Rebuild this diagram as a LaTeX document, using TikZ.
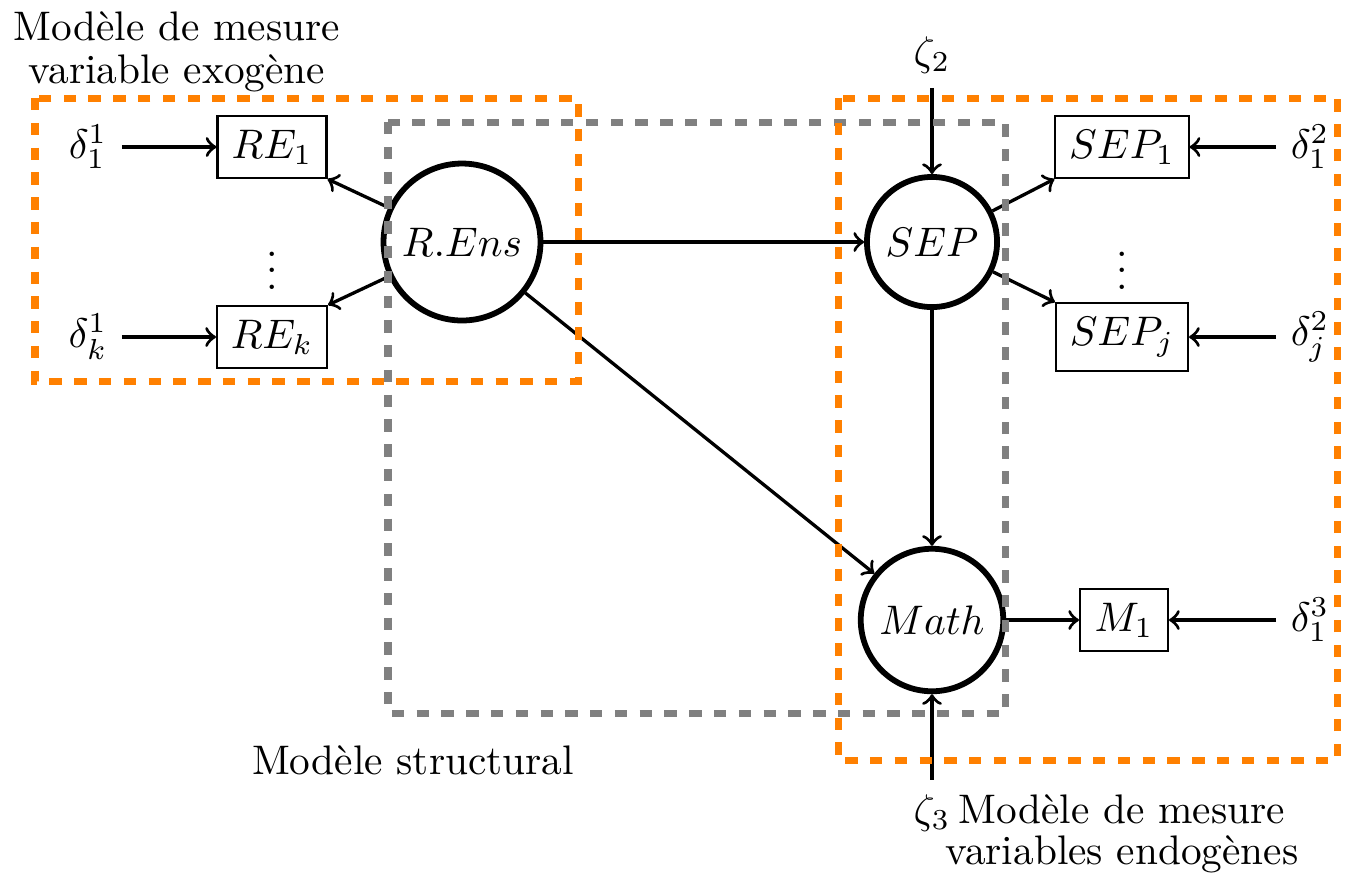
\documentclass[tikz,border=0pt]{standalone}
\begin{document}
\begin{tikzpicture}[x=0.2421pt,y=-0.2421pt,
 latent/.style={circle,draw,line width=1.4pt,inner sep=0pt},
 manifest/.style={rectangle,draw,line width=0.5pt},
 arr/.style={->,thick},
 orangebox/.style={draw=orange,line width=1.7pt,dash pattern=on 3pt off 3pt},
 graybox/.style={draw=gray,line width=1.7pt,dash pattern=on 3pt off 3pt},
 lbl/.style={align=center,font=\fontsize{10}{10.4}\selectfont}]
\useasboundingbox (0,0) rectangle (1345,887);
% latent variables
\node[latent,minimum size=38pt] (rens) at (462,242) {$R.Ens$};
\node[latent,minimum size=31.5pt] (sep) at (932,242) {$SEP$};
\node[latent,minimum size=34.5pt] (math) at (932,620) {$Math$};
% manifest variables
\node[manifest,minimum width=26.4pt] (re1) at (272,147) {$RE_1$};
\node[manifest,minimum width=26.4pt] (rek) at (272,337) {$RE_k$};
\node[manifest,minimum width=31.7pt] (sep1) at (1122,147) {$SEP_1$};
\node[manifest,minimum width=31.7pt] (sepj) at (1122,337) {$SEP_j$};
\node[manifest,minimum width=21.3pt] (m1) at (1124,620) {$M_1$};
% errors
\node (d11) at (88,147) {$\delta_1^1$};
\node (dk1) at (88,337) {$\delta_k^1$};
\node (d12) at (1310,147) {$\delta_1^2$};
\node (dj2) at (1310,337) {$\delta_j^2$};
\node (d13) at (1310,620) {$\delta_1^3$};
\node (z2) at (932,55) {$\zeta_2$};
\node[anchor=base] (z3) at (932,823) {$\zeta_3$};
% dots
\node (dots1) at (272,258) {$\vdots$};
\node (dots2) at (1122,258) {$\vdots$};
% labels
\node[lbl] (lexo) at (177,52) {Mod\`ele de mesure\\variable exog\`ene};
\node[lbl] (lstr) at (413,760) {Mod\`ele structural};
\node[lbl,font=\fontsize{10}{9.8}\selectfont] (lendo) at (1122,834) {Mod\`ele de mesure\\variables endog\`enes};
% arrows
\draw[arr] (d11) -- (re1);
\draw[arr] (dk1) -- (rek);
\draw[arr] (rens) -- (re1.south east);
\draw[arr] (rens) -- (rek.north east);
\draw[arr] (rens) -- (sep);
\draw[arr] (rens) -- (math);
\draw[arr] (sep) -- (math);
\draw[arr] (sep) -- (sep1.south west);
\draw[arr] (sep) -- (sepj.north west);
\draw[arr] (d12) -- (sep1);
\draw[arr] (dj2) -- (sepj);
\draw[arr] (math) -- (m1);
\draw[arr] (d13) -- (m1);
\draw[arr] (z2) -- (sep);
\draw[arr] (z3) -- (math);
% dashed boxes
\draw[orangebox] (35,98) rectangle (578,381);
\draw[graybox] (388,122) rectangle (1005,713);
\draw[orangebox] (838,98) rectangle (1337,760);
\end{tikzpicture}
\end{document}
